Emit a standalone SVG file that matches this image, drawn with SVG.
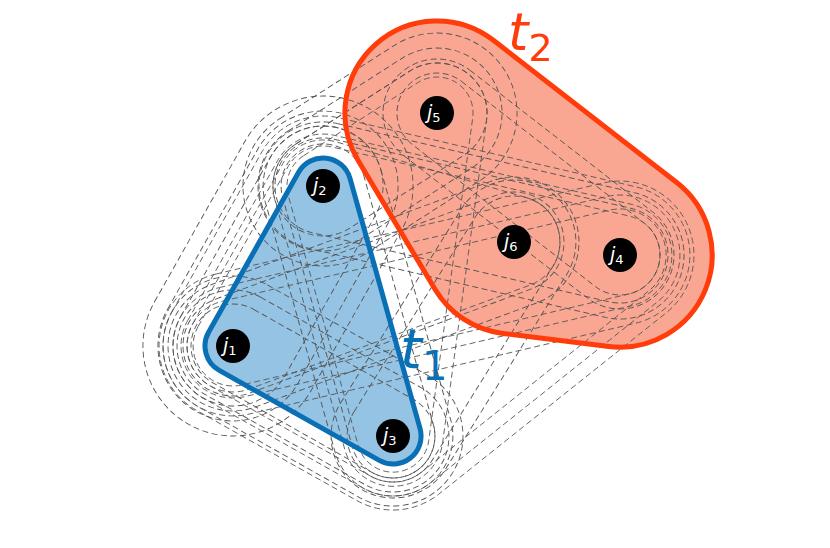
<svg xmlns="http://www.w3.org/2000/svg" width="830" height="548" viewBox="0 0 830 548">
<style>
.d{fill:none;stroke:#555;stroke-width:0.9;stroke-dasharray:6 3.5}
.jl{fill:#fff;font-family:'DejaVu Sans',sans-serif;font-style:italic;font-size:19px}
.sub{font-style:normal;font-size:13px}
</style>
<rect width="830" height="548" fill="#fff"/>
<g id="fills">
<path d="M493.4,40.3 L676.4,182.3 A92,92 0 0 1 608.8,346.4 L502.8,333.4 A92,92 0 0 1 435,289.2 L358,160.2 A92,92 0 0 1 493.4,40.3 Z" fill="#f9a792"/>
<path d="M208.6,332.3 L298.6,172.3 A28,28 0 0 1 350,178.4 L420,428.4 A28,28 0 0 1 379.3,460.4 L219.3,370.4 A28,28 0 0 1 208.6,332.3 Z" fill="#95c3e4"/>
</g>
<g id="connectors">
<path class="d" d="M198.2,326.4 L288.2,166.4 A40,40 0 0 1 332,147 L629,216 A40,40 0 0 1 629.2,293.9 L242.2,384.9 A40,40 0 0 1 198.2,326.4 Z"/>
<path class="d" d="M187.7,320.5 L277.7,160.5 A52,52 0 0 1 334.8,135.4 L631.8,204.4 A52,52 0 0 1 631.9,305.6 L244.9,396.6 A52,52 0 0 1 187.7,320.5 Z"/>
<path class="d" d="M172,311.7 L262,151.7 A70,70 0 0 1 338.8,117.8 L635.8,186.8 A70,70 0 0 1 636,323.1 L249,414.1 A70,70 0 0 1 172,311.7 Z"/>
<path class="d" d="M222.5,301.2 L609.5,210.2 A46,46 0 0 1 648.7,291 L421.7,472 A46,46 0 0 1 370.5,476.1 L210.5,386.1 A46,46 0 0 1 222.5,301.2 Z"/>
<path class="d" d="M219.3,287.6 L606.3,196.6 A60,60 0 0 1 657.4,301.9 L430.4,482.9 A60,60 0 0 1 363.6,488.3 L203.6,398.3 A60,60 0 0 1 219.3,287.6 Z"/>
<path class="d" d="M216.1,274 L603.1,183 A74,74 0 0 1 666.1,312.9 L439.1,493.9 A74,74 0 0 1 356.7,500.5 L196.7,410.5 A74,74 0 0 1 216.1,274 Z"/>
<path class="d" d="M303.6,155.7 L417.6,82.7 A36,36 0 0 1 472.7,117.9 L428.7,440.9 A36,36 0 0 1 358.3,445.7 L288.3,195.7 A36,36 0 0 1 303.6,155.7 Z"/>
<path class="d" d="M296,143.9 L410,70.9 A50,50 0 0 1 486.6,119.8 L442.6,442.8 A50,50 0 0 1 344.8,449.5 L274.8,199.5 A50,50 0 0 1 296,143.9 Z"/>
<path class="d" d="M192.9,323.5 L282.9,163.5 A46,46 0 0 1 335.9,141.8 L526.9,197.8 A46,46 0 0 1 530,285.1 L249,389.1 A46,46 0 0 1 192.9,323.5 Z"/>
<g transform="translate(313,391) rotate(29.4)">
<rect class="d" x="-133.8" y="-42" width="267.6" height="84" rx="42"/>
<rect class="d" x="-147.8" y="-56" width="295.6" height="112" rx="56"/>
<rect class="d" x="-161.8" y="-70" width="323.6" height="140" rx="70"/>
</g>
<g transform="translate(278,266) rotate(-60.6)">
<rect class="d" x="-151.8" y="-60" width="303.6" height="120" rx="60"/>
<rect class="d" x="-166.8" y="-75" width="333.6" height="150" rx="75"/>
<rect class="d" x="-181.8" y="-90" width="363.6" height="180" rx="90"/>
</g>
<g transform="translate(380,149.5) rotate(-32.6)">
<rect class="d" x="-117.7" y="-50" width="235.4" height="100" rx="50"/>
<rect class="d" x="-132.7" y="-65" width="265.4" height="130" rx="65"/>
<rect class="d" x="-147.7" y="-80" width="295.4" height="160" rx="80"/>
</g>
<g transform="translate(358,311) rotate(74.4)">
<rect class="d" x="-171.8" y="-42" width="343.6" height="84" rx="42"/>
<rect class="d" x="-189.8" y="-60" width="379.6" height="120" rx="60"/>
</g>
<g transform="translate(471.5,220.5) rotate(13.1)">
<rect class="d" x="-200.5" y="-48" width="401" height="96" rx="48"/>
<rect class="d" x="-216.5" y="-64" width="433" height="128" rx="64"/>
</g>
<g transform="translate(373.5,294) rotate(-20.3)">
<rect class="d" x="-199.8" y="-50" width="399.6" height="100" rx="50"/>
<rect class="d" x="-214.8" y="-65" width="429.6" height="130" rx="65"/>
</g>
<g transform="translate(453.5,339) rotate(-58.1)">
<rect class="d" x="-160.3" y="-46" width="320.6" height="92" rx="46"/>
<rect class="d" x="-176.3" y="-62" width="352.6" height="124" rx="62"/>
</g>
<g transform="translate(528.5,184) rotate(37.8)">
<rect class="d" x="-155.8" y="-40" width="311.6" height="80" rx="40"/>
<rect class="d" x="-169.8" y="-54" width="339.6" height="108" rx="54"/>
</g>
</g>
<g id="t2">
<path d="M493.4,40.3 L676.4,182.3 A92,92 0 0 1 608.8,346.4 L502.8,333.4 A92,92 0 0 1 435,289.2 L358,160.2 A92,92 0 0 1 493.4,40.3 Z" fill="none" stroke="#ff3c0a" stroke-width="5"/>
<text x="508" y="50" fill="#ff3c0a" font-family="'DejaVu Sans',sans-serif" font-size="52"><tspan font-style="italic">t</tspan><tspan font-size="38" dy="11">2</tspan></text>
</g>
<g id="t1">
<path d="M208.6,332.3 L298.6,172.3 A28,28 0 0 1 350,178.4 L420,428.4 A28,28 0 0 1 379.3,460.4 L219.3,370.4 A28,28 0 0 1 208.6,332.3 Z" fill="none" stroke="#0a70b6" stroke-width="5"/>
<text x="400" y="368" fill="#0a70b6" font-family="'DejaVu Sans',sans-serif" font-size="56"><tspan font-style="italic">t</tspan><tspan font-size="40" dy="12">1</tspan></text>
</g>
<g id="j1"><circle cx="233" cy="346" r="17"/><text class="jl" x="223" y="352">j<tspan class="sub" dy="3">1</tspan></text></g>
<g id="j2"><circle cx="323" cy="186" r="17"/><text class="jl" x="313" y="192">j<tspan class="sub" dy="3">2</tspan></text></g>
<g id="j3"><circle cx="393" cy="436" r="17"/><text class="jl" x="383" y="442">j<tspan class="sub" dy="3">3</tspan></text></g>
<g id="j4"><circle cx="620" cy="255" r="17"/><text class="jl" x="610" y="261">j<tspan class="sub" dy="3">4</tspan></text></g>
<g id="j5"><circle cx="437" cy="113" r="17"/><text class="jl" x="427" y="119">j<tspan class="sub" dy="3">5</tspan></text></g>
<g id="j6"><circle cx="514" cy="242" r="17"/><text class="jl" x="504" y="248">j<tspan class="sub" dy="3">6</tspan></text></g>
</svg>
